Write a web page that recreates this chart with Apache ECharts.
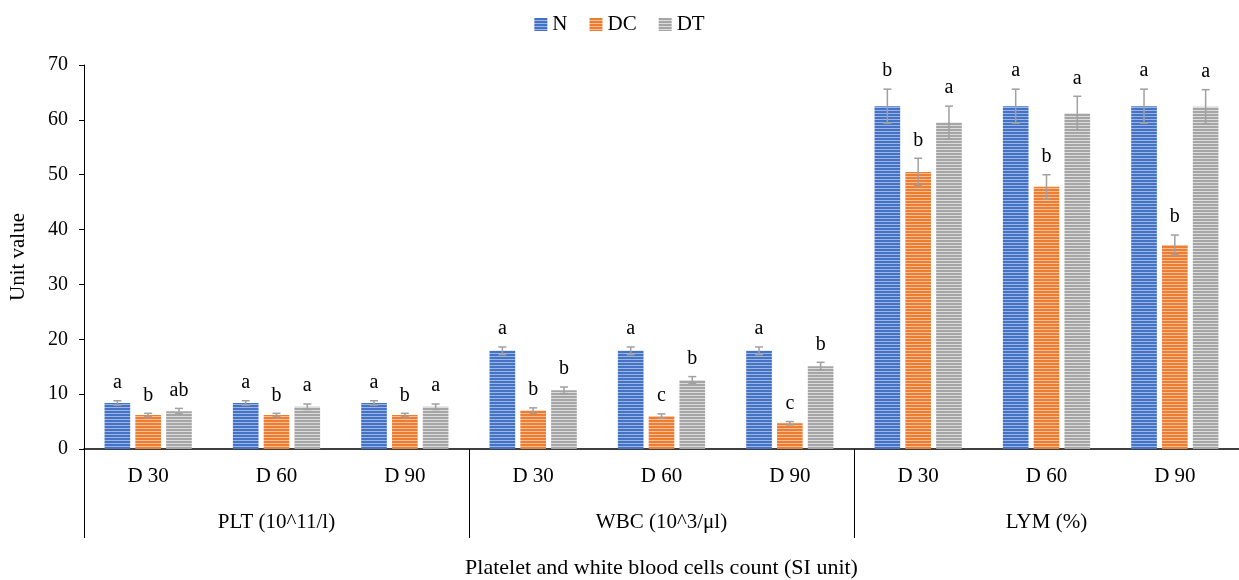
<!DOCTYPE html>
<html><head><meta charset="utf-8">
<script src="https://cdn.jsdelivr.net/npm/echarts@6/dist/echarts.min.js"></script>
<style>html,body{margin:0;padding:0;background:#fff}#c{width:1239px;height:580px}</style>
</head><body><div id="c"></div>
<script>
const days = ['D 30','D 60','D 90','D 30','D 60','D 90','D 30','D 60','D 90'];
const groups = ['PLT (10^11/l)','WBC (10^3/μl)','LYM (%)'];
const seriesNames = ['N','DC','DT'];
const valN  = [8.4, 8.4, 8.4, 17.9, 17.9, 17.9, 62.5, 62.5, 62.5];
const valDC = [6.2, 6.2, 6.2, 7.0, 6.0, 4.7, 50.5, 47.8, 37.2];
const valDT = [6.9, 7.7, 7.7, 10.7, 12.6, 15.1, 59.5, 61.2, 62.4];
const errN  = [0.4, 0.4, 0.4, 0.7, 0.7, 0.7, 3.1, 3.1, 3.1];
const errDC = [0.3, 0.3, 0.3, 0.5, 0.4, 0.3, 2.5, 2.2, 1.8];
const errDT = [0.5, 0.5, 0.5, 0.6, 0.6, 0.7, 3.0, 3.1, 3.1];
const letN  = ['a','a','a','a','a','a','b','a','a'];
const letDC = ['b','b','b','b','c','c','b','b','b'];
const letDT = ['ab','a','a','b','b','b','a','a','a'];

function stripe(base, light){
  const c = document.createElement('canvas'); c.width = 4; c.height = 3;
  const g = c.getContext('2d');
  g.fillStyle = base; g.fillRect(0,0,4,3);
  g.fillStyle = light; g.fillRect(0,2,4,1);
  return {image: c, repeat: 'repeat'};
}
const colors = [stripe('#4472C4','#9DB5E3'), stripe('#ED7D31','#F7BE97'), stripe('#A5A5A5','#DCDCDC')];
const vals = [valN, valDC, valDT], errs = [errN, errDC, errDT], lets = [letN, letDC, letDT];
const font = '"Liberation Serif", "DejaVu Serif", serif';

const series = [];
seriesNames.forEach((n,k)=>{
  series.push({name:n, type:'bar', xAxisIndex:0, yAxisIndex:0, barWidth:'20%', barGap:'20%',
    itemStyle:{color: colors[k]}, data: vals[k]});
});
seriesNames.forEach((n,k)=>{
  series.push({type:'custom', xAxisIndex:0, yAxisIndex:0, silent:true, z:5,
    data: vals[k].map((v,i)=>[i, v, errs[k][i]]),
    renderItem: function(params, api){
      const i = api.value(0), v = api.value(1), e = api.value(2);
      const cw = api.size([1,0])[0];
      const dx = (k-1)*0.24*cw;
      const top = api.coord([i, v+e]), bot = api.coord([i, v-e]);
      const x = top[0] + dx, cap = 4;
      const st = {stroke:'#A0A0A0', lineWidth:1.5};
      return {type:'group', children:[
        {type:'line', shape:{x1:x,y1:top[1],x2:x,y2:bot[1]}, style:st},
        {type:'line', shape:{x1:x-cap,y1:top[1],x2:x+cap,y2:top[1]}, style:st},
        {type:'line', shape:{x1:x-cap,y1:bot[1],x2:x+cap,y2:bot[1]}, style:st},
        {type:'text', style:{text: lets[k][params.dataIndex], x:x, y:top[1]-18, align:'center', verticalAlign:'middle', font:'20px '+font, fill:'#000'}}
      ]};
    }
  });
});

const chart = echarts.init(document.getElementById('c'));
chart.setOption({
  animation:false,
  textStyle:{fontFamily:font},
  legend:{top:9, left:'center', data:seriesNames, icon:'rect', itemWidth:13, itemHeight:13, itemGap:22,
    textStyle:{fontSize:21, fontFamily:font, color:'#000'}},
  grid:{left:84, right:0, top:65, bottom:131, outerBoundsMode:'none', containLabel:false},
  xAxis:[
    {type:'category', data:days, axisLine:{lineStyle:{color:'#000', width:1.5}}, axisTick:{show:false},
      axisLabel:{color:'#000', fontSize:21, fontFamily:font, margin:17}},
    {type:'category', data:groups, position:'bottom', axisLine:{show:false},
      axisTick:{show:true, length:89, alignWithLabel:false, lineStyle:{color:'#000', width:1}},
      axisLabel:{color:'#000', fontSize:21, fontFamily:font, margin:63},
      name:'Platelet and white blood cells count (SI unit)', nameLocation:'middle', nameGap:108,
      nameTextStyle:{color:'#000', fontSize:22, fontFamily:font}}
  ],
  yAxis:{type:'value', min:0, max:70, interval:10, splitLine:{show:false},
    axisLine:{show:true, lineStyle:{color:'#000', width:1}}, axisTick:{show:true, length:5, lineStyle:{color:'#000'}},
    axisLabel:{color:'#000', fontSize:20, fontFamily:font, margin:16},
    name:'Unit value', nameLocation:'middle', nameGap:55, nameTextStyle:{color:'#000', fontSize:21, fontFamily:font}},
  series: series
});
</script></body></html>
